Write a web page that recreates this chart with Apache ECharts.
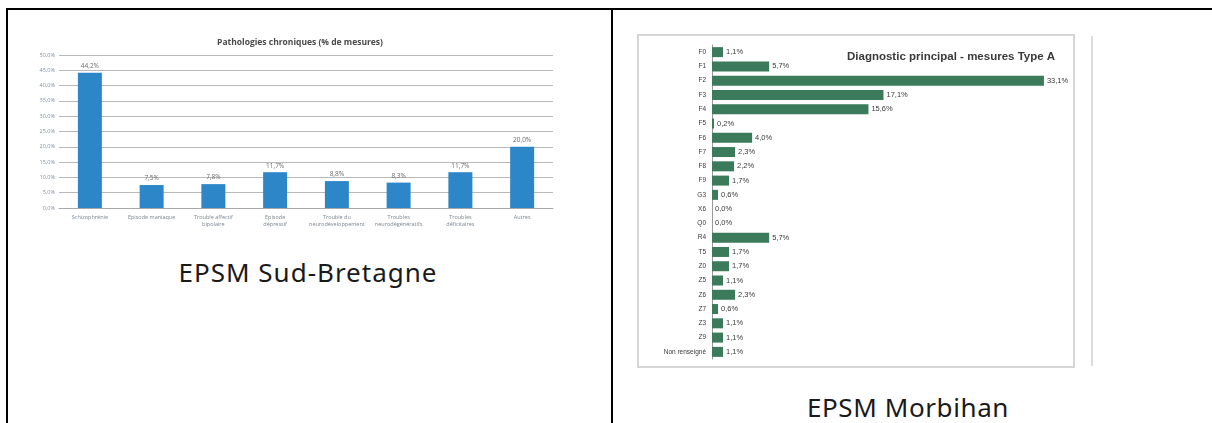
<!DOCTYPE html>
<html>
<head>
<meta charset="utf-8">
<script src="https://cdn.jsdelivr.net/npm/echarts@6/dist/echarts.min.js"></script>
<style>
  body { margin: 0; background: #fff; width: 1212px; height: 423px; position: relative; overflow: hidden; font-family: 'Noto Sans', sans-serif; }
  .rule { position: absolute; background: #000; }
  .caption { position: absolute; font-size: 26px; line-height: 32px; color: #1a1a1a; text-align: center; }
  #left { position: absolute; left: 20px; top: 28px; width: 560px; height: 200px; }
  #right { position: absolute; left: 637px; top: 34px; width: 438px; height: 334px; }
  .frame { position: absolute; left: 637px; top: 34px; width: 438px; height: 334px; box-sizing: border-box; border: 2px solid #d6d6d6; pointer-events: none; }
  .scanline { position: absolute; left: 1091px; top: 36px; width: 2px; height: 330px; background: #dcdcdc; }
</style>
</head>
<body>
<div class="rule" style="left:6px;top:8px;width:1206px;height:2px"></div>
<div class="rule" style="left:6px;top:8px;width:2px;height:415px"></div>
<div class="rule" style="left:611px;top:8px;width:2px;height:415px"></div>

<div id="left"></div>
<div class="caption" style="left:8px;top:256px;width:600px;letter-spacing:1px">EPSM Sud-Bretagne</div>

<div id="right"></div>
<div class="frame"></div>
<div class="scanline"></div>
<div class="caption" style="left:613px;top:391px;width:590px;letter-spacing:0.6px">EPSM Morbihan</div>

<script>
// Sud-Bretagne : pathologies chroniques (% de mesures)
var sbCategories = ['Schizophrénie', 'Episode maniaque', 'Trouble affectif\nbipolaire', 'Episode\ndépressif',
  'Trouble du\nneurodéveloppement', 'Troubles\nneurodégénératifs', 'Troubles\ndéficitaires', 'Autres']
var sbValues = [44.2, 7.5, 7.8, 11.7, 8.8, 8.3, 11.7, 20.0]

// Morbihan : diagnostic principal - mesures type A
var mbCategories = ['F0', 'F1', 'F2', 'F3', 'F4', 'F5', 'F6', 'F7', 'F8', 'F9', 'G3', 'X6', 'Q0',
  'R4', 'T5', 'Z0', 'Z5', 'Z6', 'Z7', 'Z3', 'Z9', 'Non renseigné']
var mbValues = [1.1, 5.7, 33.1, 17.1, 15.6, 0.2, 4.0, 2.3, 2.2, 1.7, 0.6, 0.0, 0.0,
  5.7, 1.7, 1.7, 1.1, 2.3, 0.6, 1.1, 1.1, 1.1]

function pct(v) {
  return Number(v).toFixed(1).replace('.', ',') + '%'
}

var leftChart = echarts.init(document.getElementById('left'))
leftChart.setOption({
  animation: false,
  title: {
    text: 'Pathologies chroniques (% de mesures)',
    left: 'center',
    top: 5,
    textStyle: { fontSize: 8.5, fontWeight: 'bold', color: '#4a4a4a', fontFamily: 'Open Sans' }
  },
  grid: { left: 39, top: 27, width: 494, height: 158 },
  xAxis: {
    type: 'category',
    data: sbCategories,
    axisLine: { lineStyle: { color: '#a8a8a8' } },
    axisTick: { length: 3, lineStyle: { color: '#a8a8a8' } },
    axisLabel: { interval: 0, fontSize: 5.5, lineHeight: 7, color: '#7a8590', margin: 6, fontFamily: 'Open Sans' }
  },
  yAxis: {
    type: 'value',
    min: 0,
    max: 50,
    interval: 5,
    axisLine: { show: false },
    axisTick: { show: false },
    axisLabel: { fontSize: 5.5, color: '#7f8fa3', margin: 4, formatter: pct, fontFamily: 'Open Sans' },
    splitLine: { lineStyle: { color: '#b9b9b9' } }
  },
  series: [{
    type: 'bar',
    data: sbValues,
    barWidth: 24,
    itemStyle: { color: '#2c86c8' },
    label: {
      show: true,
      position: 'top',
      fontSize: 6.5,
      color: '#6c6c6c',
      distance: 3,
      fontFamily: 'Open Sans',
      formatter: function (p) { return pct(p.value) }
    }
  }]
})

var rightChart = echarts.init(document.getElementById('right'))
rightChart.setOption({
  animation: false,
  title: {
    text: 'Diagnostic principal - mesures Type A',
    left: 205,
    top: 12,
    textStyle: { fontSize: 11.5, fontWeight: 'bold', color: '#3a3a3a', fontFamily: 'Liberation Sans' }
  },
  grid: { left: 75, top: 11, width: 351, height: 314 },
  xAxis: {
    type: 'value',
    min: 0,
    max: 35,
    show: false
  },
  yAxis: {
    type: 'category',
    inverse: true,
    data: mbCategories,
    axisLine: { lineStyle: { color: '#9a9a9a' } },
    axisTick: { length: 3, lineStyle: { color: '#9a9a9a' } },
    axisLabel: { fontSize: 6.5, color: '#3a3a3a', margin: 6, fontFamily: 'Liberation Sans' }
  },
  series: [{
    type: 'bar',
    data: mbValues,
    barWidth: 10,
    itemStyle: { color: '#3b7a5a' },
    label: {
      show: true,
      position: 'right',
      fontSize: 7.5,
      color: '#3a3a3a',
      distance: 3,
      fontFamily: 'Liberation Sans',
      formatter: function (p) { return pct(p.value) }
    }
  }]
})
</script>
</body>
</html>
